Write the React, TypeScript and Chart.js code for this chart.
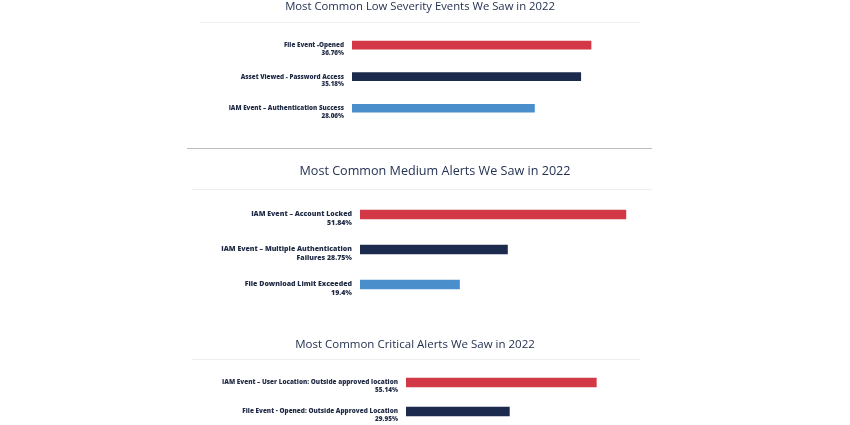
import React, { useEffect, useRef } from "react";
import { Chart, registerables } from "chart.js";

Chart.register(...registerables);

// ---- data ----
const lowTitle = "Most Common Low Severity Events We Saw in 2022";
const lowLabels = [
  ["File Event -Opened", "36.76%"],
  ["Asset Viewed - Password Access", "35.18%"],
  ["IAM Event – Authentication Success", "28.06%"],
];
const lowValues = [36.76, 35.18, 28.06];

const mediumTitle = "Most Common Medium Alerts We Saw in 2022";
const mediumLabels = [
  ["IAM Event – Account Locked", "51.84%"],
  ["IAM Event – Multiple Authentication", "Failures 28.75%"],
  ["File Download Limit Exceeded", "19.4%"],
];
const mediumValues = [51.84, 28.75, 19.4];

const criticalTitle = "Most Common Critical Alerts We Saw in 2022";
const criticalLabels = [
  ["IAM Event – User Location: Outside approved location", "55.14%"],
  ["File Event - Opened: Outside Approved Location", "29.95%"],
];
const criticalValues = [55.14, 29.95];

const barColors = ["#d33846", "#1c2a4e", "#4a8fcc"];

type PanelProps = {
  title: string;
  titleSize: number;
  labelSize: number;
  labels: string[][];
  values: number[];
  left: number;
  top: number;
  width: number;
  height: number;
  axisWidth: number;
  xMax: number;
  pad: number;
  titlePadTop: number;
  titlePadBottom: number;
  barThickness: number;
};

function Panel(p: PanelProps) {
  const ref = useRef<HTMLCanvasElement | null>(null);
  useEffect(() => {
    if (!ref.current) return;
    const chart = new Chart(ref.current, {
      type: "bar",
      data: {
        labels: p.labels,
        datasets: [
          {
            data: p.values,
            backgroundColor: barColors.slice(0, p.values.length),
            barThickness: p.barThickness,
            borderWidth: 0,
          },
        ],
      },
      options: {
        indexAxis: "y",
        animation: false,
        responsive: true,
        maintainAspectRatio: false,
        layout: { padding: { left: p.pad, right: p.pad, top: 0, bottom: 0 } },
        plugins: {
          legend: { display: false },
          tooltip: { enabled: false },
          title: {
            display: true,
            text: p.title,
            color: "#243252",
            font: { family: "'Open Sans'", size: p.titleSize, weight: 500, lineHeight: 1.2 },
            padding: { top: p.titlePadTop, bottom: p.titlePadBottom },
          },
        },
        scales: {
          x: { display: false, min: 0, max: p.xMax },
          y: {
            afterFit: (scale: any) => {
              scale.width = p.axisWidth;
              scale.paddingTop = 0;
              scale.paddingBottom = 0;
            },
            grid: { display: false, drawTicks: false },
            border: { display: false },
            ticks: {
              color: "#1f2a44",
              padding: 8,
              labelOffset: 4,
              font: { family: "'Open Sans'", size: p.labelSize, weight: 800, lineHeight: 1.2 },
            },
          },
        },
      },
    });
    return () => chart.destroy();
  }, []);
  return (
    <div
      style={{
        position: "absolute",
        left: p.left,
        top: p.top,
        width: p.width,
        height: p.height,
      }}
    >
      <canvas ref={ref} />
    </div>
  );
}

function Line(props: { x1: number; x2: number; y: number; color: string; h?: number }) {
  return (
    <div
      style={{
        position: "absolute",
        left: props.x1,
        top: props.y,
        width: props.x2 - props.x1,
        height: props.h ?? 1,
        background: props.color,
      }}
    />
  );
}

export default function App() {
  return (
    <div
      style={{
        position: "absolute",
        left: 0,
        top: 0,
        width: 850,
        height: 425,
        overflow: "hidden",
        background: "#ffffff",
      }}
    >
      <Panel
        title={lowTitle}
        titleSize={11.3}
        labelSize={6.3}
        labels={lowLabels}
        values={lowValues}
        left={180}
        top={0}
        width={480}
        height={124}
        axisWidth={154}
        xMax={44.6}
        pad={18}
        titlePadTop={0}
        titlePadBottom={15.7}
        barThickness={8}
      />
      <Line x1={200} x2={640} y={22} color="#eeeeee" />
      <Line x1={187} x2={652} y={148} color="#bdbdbd" h={1} />
      <Panel
        title={mediumTitle}
        titleSize={12.6}
        labelSize={7}
        labels={mediumLabels}
        values={mediumValues}
        left={180}
        top={155}
        width={510}
        height={147}
        axisWidth={168}
        xMax={62}
        pad={12}
        titlePadTop={8.9}
        titlePadBottom={18}
        barThickness={9}
      />
      <Line x1={192} x2={652} y={189} color="#eeeeee" />
      <Panel
        title={criticalTitle}
        titleSize={11.5}
        labelSize={6.4}
        labels={criticalLabels}
        values={criticalValues}
        left={170}
        top={330}
        width={490}
        height={96}
        axisWidth={225}
        xMax={70.4}
        pad={11}
        titlePadTop={7.8}
        titlePadBottom={16.4}
        barThickness={9}
      />
      <Line x1={192} x2={640} y={359} color="#eeeeee" />
    </div>
  );
}
